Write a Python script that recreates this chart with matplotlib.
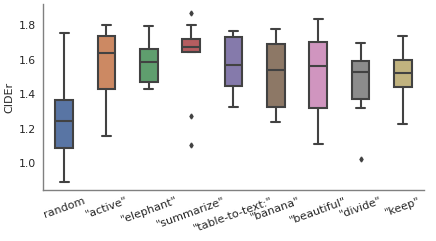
import matplotlib
matplotlib.use("Agg")
import matplotlib.pyplot as plt
import seaborn as sns
import numpy as np

categories = ['random', '"active"', '"elephant"', '"summarize"', '"table-to-text:"',
              '"banana"', '"beautiful"', '"divide"', '"keep"']
whislo = [0.89, 1.158, 1.427, 1.643, 1.326, 1.239, 1.108, 1.321, 1.228]
q1     = [1.09, 1.43, 1.471, 1.643, 1.446, 1.323, 1.321, 1.369, 1.442]
med    = [1.245, 1.64, 1.586, 1.674, 1.568, 1.539, 1.561, 1.529, 1.522]
q3     = [1.365, 1.736, 1.663, 1.717, 1.732, 1.692, 1.701, 1.591, 1.597]
whishi = [1.754, 1.798, 1.794, 1.798, 1.767, 1.775, 1.835, 1.697, 1.734]
fliers = [[], [], [], [1.871, 1.274, 1.104], [], [], [], [1.025], []]

sns.set_theme(style="white")
plt.rcParams['font.family'] = ['DejaVu Sans']

fig = plt.figure(figsize=(4.36, 2.41), dpi=100)
ax = fig.add_axes([0.0986, 0.2116, 0.8739, 0.7714])

pal = sns.color_palette("deep", len(categories))
pal = [sns.desaturate(c, 0.75) for c in pal]
line_c = (0.26, 0.26, 0.26)

stats = []
for i in range(len(categories)):
    stats.append(dict(whislo=whislo[i], q1=q1[i], med=med[i], q3=q3[i],
                      whishi=whishi[i], fliers=fliers[i], label=categories[i]))

bp = ax.bxp(stats, positions=np.arange(len(categories)), widths=0.42,
            patch_artist=True, showfliers=True,
            boxprops=dict(edgecolor=line_c, linewidth=1.5),
            medianprops=dict(color=line_c, linewidth=1.5),
            whiskerprops=dict(color=line_c, linewidth=1.5),
            capprops=dict(color=line_c, linewidth=1.5),
            flierprops=dict(marker='d', markersize=2.5, markerfacecolor=line_c,
                            markeredgecolor=line_c, linestyle='none'))
for patch, c in zip(bp['boxes'], pal):
    patch.set_facecolor(c)

ax.set_xlim(-0.5, len(categories) - 0.5)
ax.set_ylim(0.8435, 1.9217)
ax.set_yticks([1.0, 1.2, 1.4, 1.6, 1.8])
ax.set_xticks(np.arange(len(categories)))
ax.set_xticklabels(categories, rotation=20, ha='center', fontsize=8, color='0.15')
ax.tick_params(axis='y', labelsize=7.8, colors='0.15', length=0, pad=5)
ax.tick_params(axis='x', length=0, pad=4)
ax.set_ylabel('CIDEr', fontsize=8, color='0.15', labelpad=3)
for s in ['top', 'right']:
    ax.spines[s].set_visible(False)
for s in ['left', 'bottom']:
    ax.spines[s].set_color('0.5')
    ax.spines[s].set_linewidth(1.0)

fig.savefig('out.png', dpi=100)
